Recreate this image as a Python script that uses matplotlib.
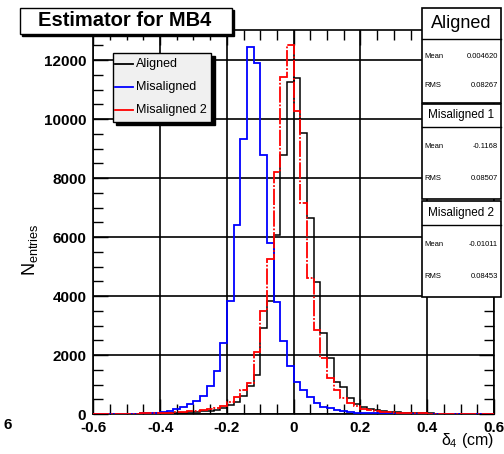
import numpy as np
import matplotlib
matplotlib.use("Agg")
import matplotlib.pyplot as plt
from matplotlib.patches import Rectangle
from matplotlib.lines import Line2D
from matplotlib.ticker import MultipleLocator

plt.rcParams['font.family'] = ['Liberation Sans', 'DejaVu Sans']
plt.rcParams['mathtext.fontset'] = 'custom'
plt.rcParams['mathtext.rm'] = 'Liberation Sans'
plt.rcParams['mathtext.it'] = 'Liberation Sans'

# histogram binning: 60 bins of 0.02 cm between -0.6 and 0.6
bin_edges = np.linspace(-0.6, 0.6, 61)

aligned = [3, 3, 4, 5, 6, 8, 10, 12, 15, 18,
           22, 28, 35, 45, 55, 70, 90, 110, 140, 190,
           300, 420, 600, 950, 1320, 2900, 3830, 6070, 8780, 11260,
           11400, 9510, 6630, 4480, 2740, 1890, 1100, 920, 530, 340,
           250, 180, 130, 100, 80, 60, 45, 35, 28, 22,
           18, 14, 11, 9, 7, 5, 4, 3, 2, 2]

misaligned = [0, 0, 0, 10, 10, 15, 15, 20, 25, 35,
              60, 100, 160, 250, 340, 450, 610, 950, 1460, 2400,
              3830, 6410, 9330, 12450, 11890, 8780, 5790, 3790, 2470, 1630,
              1100, 810, 590, 380, 250, 190, 130, 90, 70, 50,
              40, 30, 25, 20, 15, 12, 10, 8, 6, 5,
              4, 3, 2, 2, 1, 1, 0, 0, 0, 0]

misaligned2 = [5, 5, 5, 8, 10, 12, 15, 18, 22, 28,
               35, 45, 55, 70, 90, 110, 130, 160, 200, 270,
               420, 580, 800, 1050, 2100, 3500, 5250, 8210, 11410, 12510,
               10270, 7140, 4600, 2850, 1890, 1210, 800, 550, 370, 260,
               180, 130, 100, 80, 60, 45, 35, 28, 22, 18,
               15, 12, 10, 8, 6, 5, 4, 3, 3, 2]

series_names = ["Aligned", "Misaligned", "Misaligned 2"]
series_colors = ["black", "blue", "red"]

stat_titles = ["Aligned", "Misaligned 1", "Misaligned 2"]
stat_means = ["0.004620", "-0.1168", "-0.01011"]
stat_rms = ["0.08267", "0.08507", "0.08453"]

W, H = 504, 454


def fx(px):
    return px / W


def fy(py):
    return 1 - py / H


fig = plt.figure(figsize=(W / 100, H / 100), dpi=100)
ax = fig.add_axes([fx(93.3), fy(414), fx(494) - fx(93.3), fy(29.5) - fy(414)])

red_style = (0, (9, 1, 1, 1))
ax.stairs(aligned, bin_edges, color="black", lw=1.1, zorder=3)
ax.stairs(misaligned, bin_edges, color="blue", lw=1.3, zorder=3)
ax.stairs(misaligned2, bin_edges, color="red", lw=1.3, ls=red_style, zorder=4)

ax.set_xlim(-0.6, 0.6)
ax.set_ylim(0, 13034)
ax.set_xticks([-0.6, -0.4, -0.2, 0, 0.2, 0.4, 0.6])
ax.set_xticklabels(["-0.6", "-0.4", "-0.2", "0", "0.2", "0.4", "0.6"])
ax.xaxis.set_minor_locator(MultipleLocator(0.05))
ax.set_yticks(range(0, 12001, 2000))
ax.yaxis.set_minor_locator(MultipleLocator(500))
ax.tick_params(which="both", direction="in", top=True, right=True,
               labelsize=11, width=1.0, colors="black")
ax.tick_params(which="major", length=11, pad=5)
ax.tick_params(which="minor", length=7)
for lab in ax.get_xticklabels() + ax.get_yticklabels():
    lab.set_fontweight("bold")
ax.grid(True, which="major", color="black", lw=1.2, zorder=1)
for s in ax.spines.values():
    s.set_linewidth(1.2)

fig.text(fx(494), fy(441), r"$\delta_4$ (cm)", ha="right", va="center", fontsize=11.5)
fig.text(fx(30), fy(250), r"N$_{\rm entries}$", rotation=90,
         ha="center", va="center", fontsize=13)
# clipped label left over on the left border
fig.text(fx(4), fy(425), "6", ha="left", va="center", fontsize=11, fontweight="bold")

# title box
fig.patches.append(Rectangle((fx(22), fy(36)), fx(234) - fx(22), fy(10) - fy(36),
                             transform=fig.transFigure, facecolor="black",
                             edgecolor="black", zorder=5))
fig.patches.append(Rectangle((fx(19.5), fy(33.5)), fx(232) - fx(19.5), fy(7.5) - fy(33.5),
                             transform=fig.transFigure, facecolor="white",
                             edgecolor="black", lw=1.0, zorder=6))
fig.text(fx(125), fy(21), "Estimator for MB4", ha="center", va="center",
         fontsize=14.5, fontweight="bold", zorder=7)

# legend box with shadow
fig.patches.append(Rectangle((fx(116), fy(125)), fx(215) - fx(116), fy(56) - fy(125),
                             transform=fig.transFigure, facecolor="black",
                             edgecolor="black", zorder=5))
fig.patches.append(Rectangle((fx(113), fy(122)), fx(211) - fx(113), fy(53) - fy(122),
                             transform=fig.transFigure, facecolor="#f0f0f0",
                             edgecolor="black", lw=1.0, zorder=6))
for k, (name, col) in enumerate(zip(series_names, series_colors)):
    yy = fy(63.5 + 23.3 * k)
    fig.lines.append(Line2D([fx(115), fx(133)], [yy, yy], color=col, lw=1.3,
                            transform=fig.transFigure, zorder=7))
    fig.text(fx(136), yy, name, ha="left", va="center", fontsize=9, zorder=7)

# statistics boxes
box_tops = [8, 103.5, 201.5]
for k in range(3):
    top = box_tops[k]
    bottom = top + 95
    head = top + 31 if k == 0 else top + 23
    fig.patches.append(Rectangle((fx(421.5), fy(bottom)), fx(500.5) - fx(421.5), fy(top) - fy(bottom),
                                 transform=fig.transFigure, facecolor="white",
                                 edgecolor="black", lw=1.2, zorder=6))
    fig.lines.append(Line2D([fx(421.5), fx(500.5)], [fy(head), fy(head)], color="black",
                            lw=1.0, transform=fig.transFigure, zorder=7))
    fig.text(fx(461), fy((top + head) / 2), stat_titles[k], ha="center", va="center",
             fontsize=13 if k == 0 else 8.5, zorder=8)
    mean_y = head + (bottom - head) * 0.28
    rms_y = head + (bottom - head) * 0.72
    fig.text(fx(424), fy(mean_y), "Mean", ha="left", va="center", fontsize=5.5, zorder=8)
    fig.text(fx(498), fy(mean_y), stat_means[k], ha="right", va="center", fontsize=5.5, zorder=8)
    fig.text(fx(424), fy(rms_y), "RMS", ha="left", va="center", fontsize=5.5, zorder=8)
    fig.text(fx(498), fy(rms_y), stat_rms[k], ha="right", va="center", fontsize=5.5, zorder=8)

fig.savefig("out.png", dpi=100)
